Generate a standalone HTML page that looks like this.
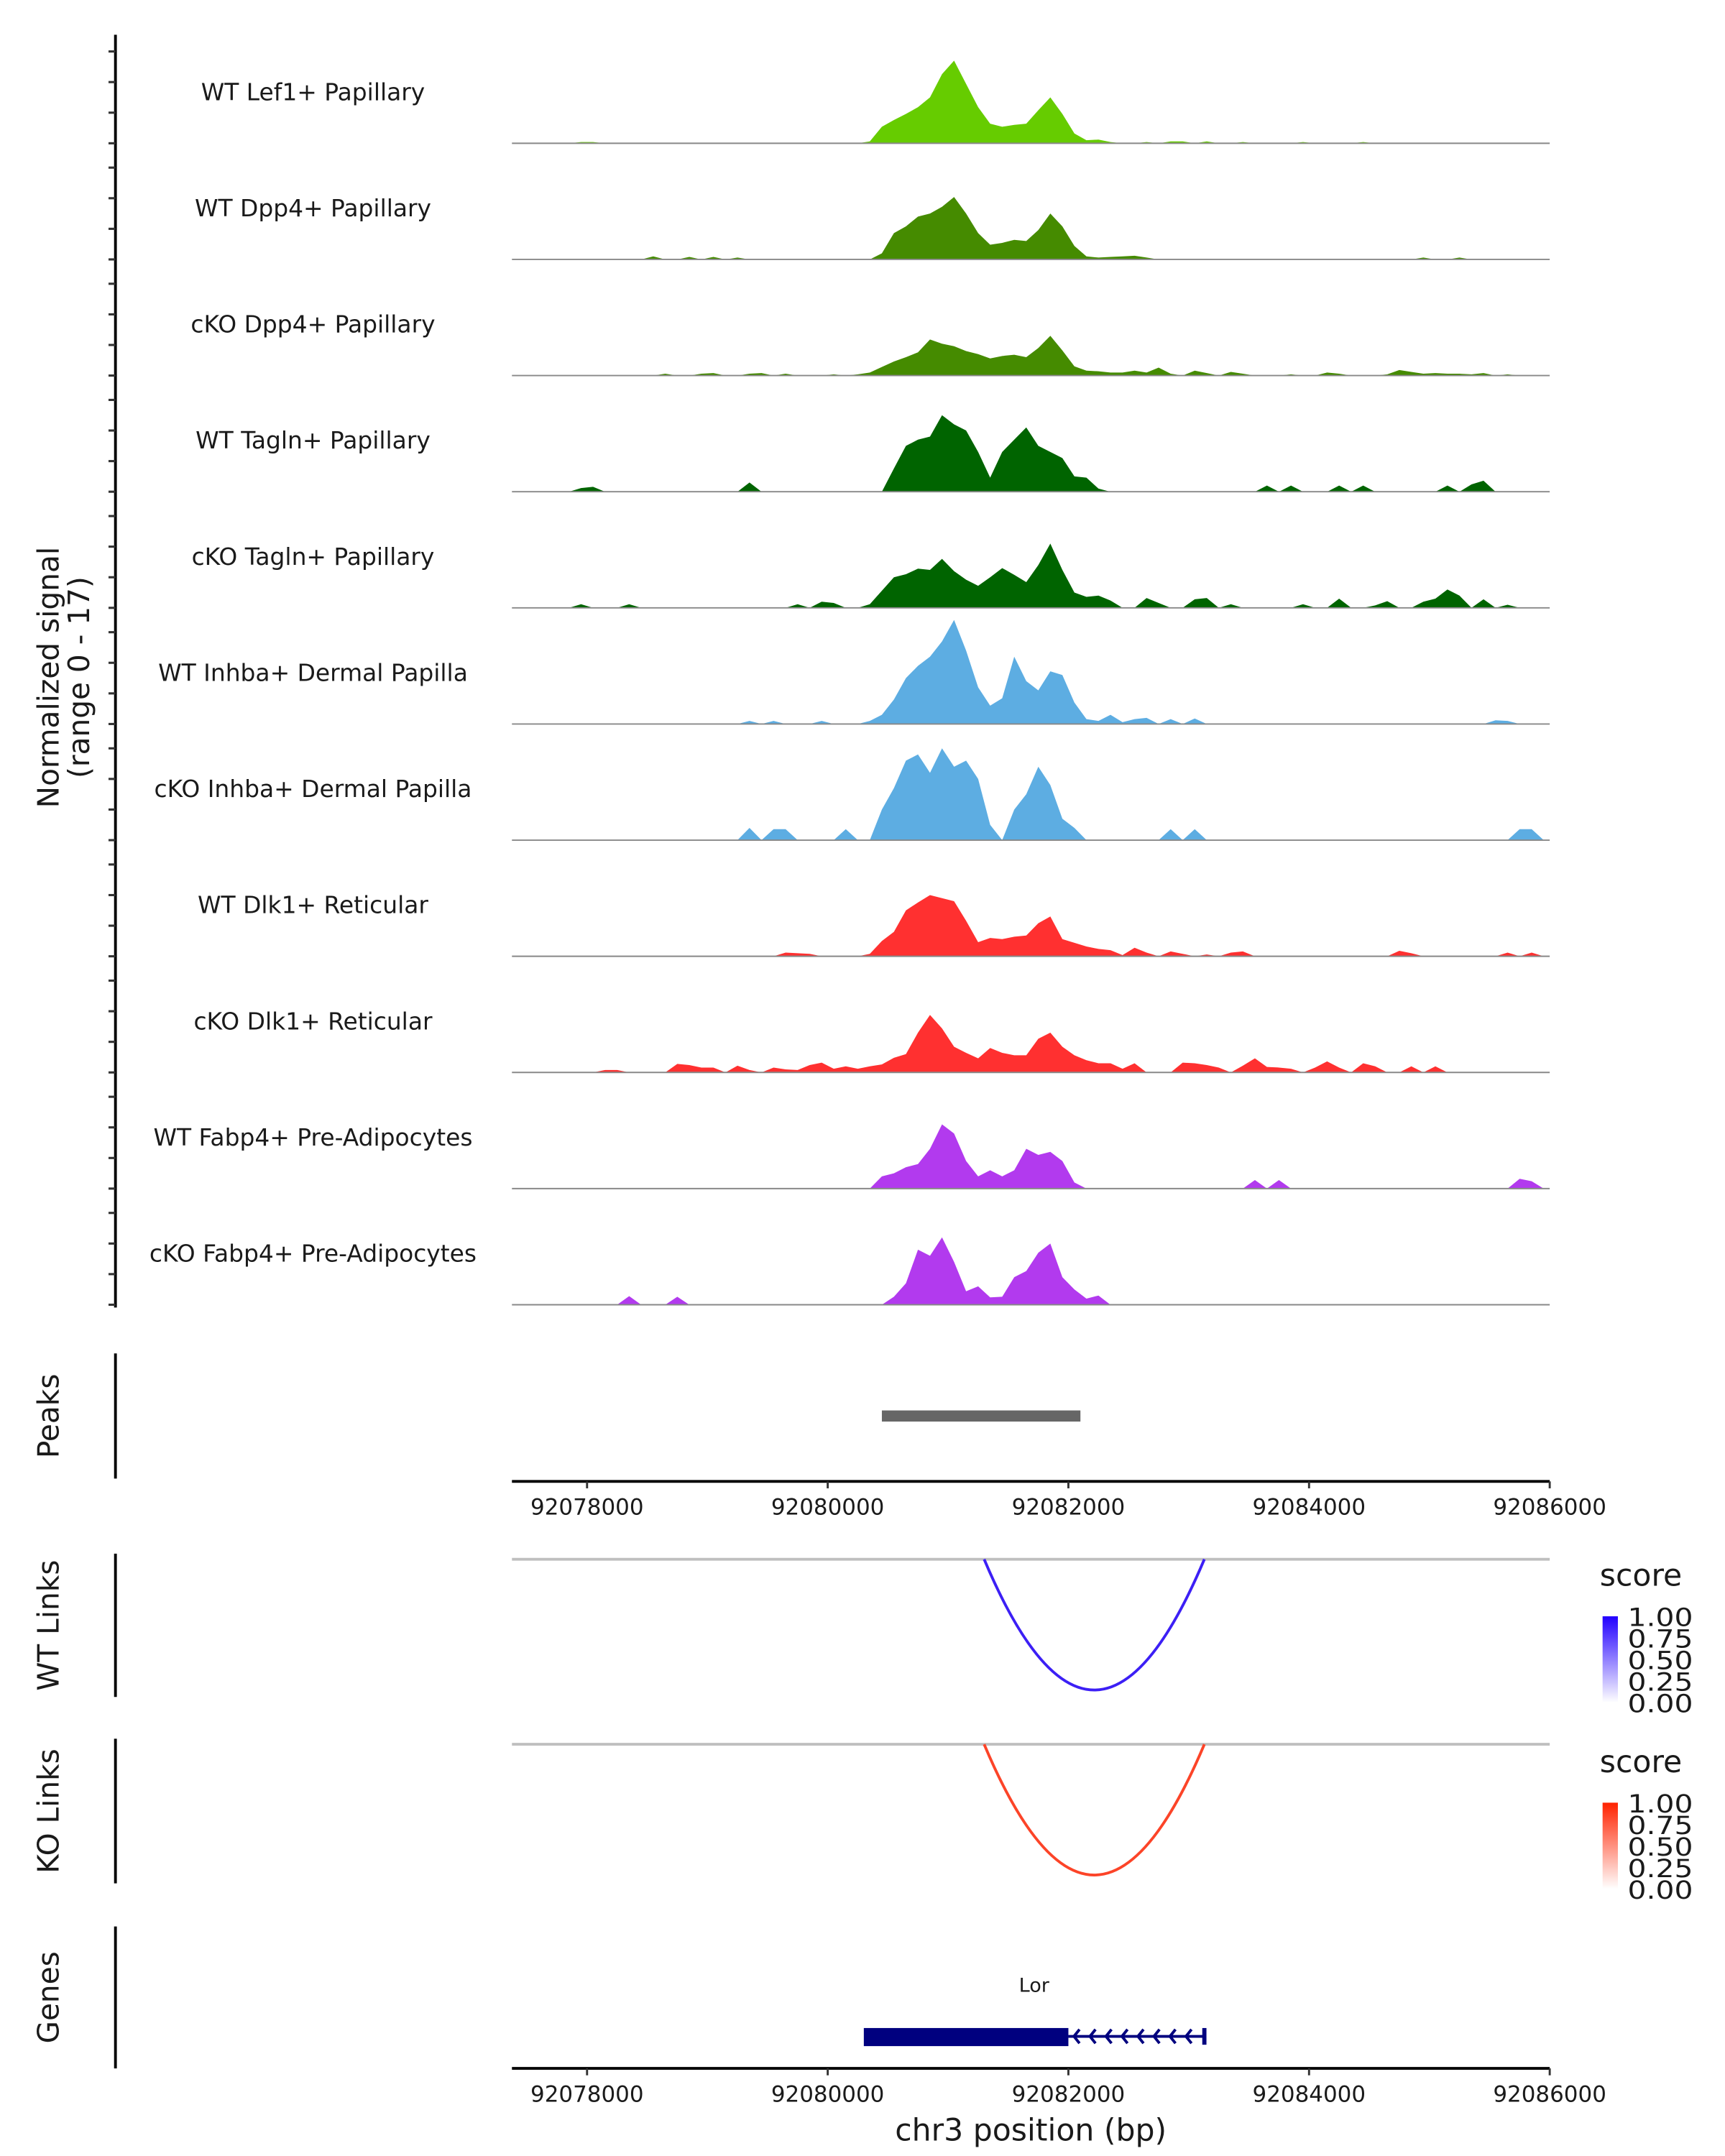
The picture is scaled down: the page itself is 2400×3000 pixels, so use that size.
<!DOCTYPE html>
<html><head><meta charset="utf-8"><style>
html,body{margin:0;padding:0;background:#fff}
svg{display:block}
text{font-family:"DejaVu Sans","Liberation Sans",sans-serif;fill:#1a1a1a}
</style></head><body>
<svg id="chart" width="2400" height="3000" viewBox="0 0 1240 1550" xmlns="http://www.w3.org/2000/svg">
<g id="tracks"></g>
<g id="other"></g>
</svg>
<script>
const NS="http://www.w3.org/2000/svg";
const trackNames=["WT Lef1+ Papillary","WT Dpp4+ Papillary","cKO Dpp4+ Papillary","WT Tagln+ Papillary","cKO Tagln+ Papillary","WT Inhba+ Dermal Papilla","cKO Inhba+ Dermal Papilla","WT Dlk1+ Reticular","cKO Dlk1+ Reticular","WT Fabp4+ Pre-Adipocytes","cKO Fabp4+ Pre-Adipocytes"];
const trackColors=["#66cc00","#458b00","#458b00","#006400","#006400","#5dade2","#5dade2","#ff3030","#ff3030","#b23aee","#b23aee"];
const binStart=92077400;
const binSize=100;
const sLef1=[0,0,0,0,0,0.2,0.2,0,0,0,0,0,0,0.1,0,0,0,0,0,0.1,0,0,0,0,0,0,0.1,0,0,0.3,
2.7,3.8,4.8,5.9,7.5,11.3,13.5,9.7,5.9,3.2,2.7,3,3.2,5.4,7.5,4.8,1.6,0.5,0.6,0.2,
0,0,0.2,0,0.3,0.3,0,0.3,0,0,0.2,0,0,0,0,0.2,0,0,0,0,0.2,0,0,0,0,0,0,0,0,0,0,0,0,0,0,0];
const sWtDpp4=[0,0,0,0,0,0,0,0,0,0,0,0.5,0,0,0.4,0,0.4,0,0.3,0,0,0,0,0,0,0,0,0,0,0,
1,4.3,5.4,7,7.5,8.6,10.2,7.5,4.3,2.4,2.7,3.2,3,4.8,7.5,5.4,2.2,0.5,0.3,0.4,
0.5,0.6,0.3,0,0,0,0,0,0,0,0,0,0,0,0,0,0,0,0,0,0,0,0,0,0,0.3,0,0,0.3,0,0,0,0,0,0,0];
const sKoDpp4=[0,0,0,0,0,0,0,0,0,0,0,0,0.3,0,0,0.3,0.4,0,0,0.3,0.4,0,0.3,0,0,0,0.2,0,0.2,0.5,
1.4,2.3,3,3.8,5.9,5.2,4.8,4,3.5,2.8,3.2,3.4,3,4.5,6.5,4.1,1.5,0.8,0.7,0.5,
0.5,0.8,0.5,1.3,0.3,0,0.8,0.4,0,0.6,0.3,0,0,0,0.2,0,0,0.5,0.3,0,0,0,0.2,0.9,0.6,0.3,0.4,0.3,0.3,0.2,0.4,0,0.2,0,0,0];
const sWtTagln=[0,0,0,0,0,0.6,0.8,0,0,0,0,0,0,0,0,0,0,0,0,1.5,0,0,0,0,0,0,0,0,0,0,
0,3.8,7.5,8.5,9,12.5,11,10,6.5,2.3,6.5,8.5,10.5,7.5,6.5,5.5,2.5,2.3,0.5,0,
0,0,0,0,0,0,0,0,0,0,0,0,1,0,1,0,0,0,1,0,1,0,0,0,0,0,0,1,0,1.2,1.8,0,0,0,0,0];
const sKoTagln=[0,0,0,0,0,0.6,0,0,0,0.6,0,0,0,0,0,0,0,0,0,0,0,0,0,0.6,0,1,0.8,0,0,0.6,
2.8,5,5.5,6.4,6.2,8,6,4.6,3.6,5,6.5,5.4,4.2,7,10.5,6.2,2.5,1.8,2,1.2,
0,0,1.6,0.8,0,0,1.4,1.6,0,0.6,0,0,0,0,0,0.6,0,0,1.5,0,0,0.4,1.1,0,0,1,1.5,3,2,0,1.4,0,0.5,0,0,0];
const sWtInhba=[0,0,0,0,0,0,0,0,0,0,0,0,0,0,0,0,0,0,0,0.5,0,0.5,0,0,0,0.5,0,0,0,0.5,
1.5,4,7.5,9.5,11,13.5,17,12,6,3,4.2,11,7,5.5,8.6,8,3.5,0.8,0.5,1.5,
0.3,0.8,1,0,0.8,0,0.9,0,0,0,0,0,0,0,0,0,0,0,0,0,0,0,0,0,0,0,0,0,0,0,0,0.6,0.5,0,0,0];
const sKoInhba=[0,0,0,0,0,0,0,0,0,0,0,0,0,0,0,0,0,0,0,2,0,1.8,1.8,0,0,0,0,1.8,0,0,
5,8.5,13,14,11,15,12,13,10,2.5,0,5,7.5,12,9,3.5,2,0,0,0,
0,0,0,0,1.8,0,1.8,0,0,0,0,0,0,0,0,0,0,0,0,0,0,0,0,0,0,0,0,0,0,0,0,0,0,1.8,1.8,0];
const sWtDlk1=[0,0,0,0,0,0,0,0,0,0,0,0,0,0,0,0,0,0,0,0,0,0,0.6,0.5,0.4,0,0,0,0,0.4,
2.5,4,7.5,8.8,10,9.5,9,5.8,2.3,3,2.8,3.2,3.4,5.4,6.5,2.8,2.2,1.6,1.2,1,
0.2,1.4,0.6,0,0.8,0.4,0,0.3,0,0.6,0.8,0,0,0,0,0,0,0,0,0,0,0,0,0.9,0.5,0,0,0,0,0,0,0,0.6,0,0.6,0];
const sKoDlk1=[0,0,0,0,0,0,0,0.4,0.4,0,0,0,0,1.4,1.2,0.8,0.8,0,1.1,0.4,0,0.8,0.5,0.4,1.2,1.6,0.6,1,0.6,1,
1.3,2.4,3,6.5,9.4,7.2,4.2,3.2,2.3,4,3.2,2.8,2.8,5.5,6.5,4.2,2.8,2,1.5,1.5,
0.6,1.5,0,0,0,1.6,1.5,1.2,0.8,0,1.1,2.3,0.9,0.8,0.6,0,0.8,1.8,0.8,0,1.5,1,0,0,1,0,1,0,0,0,0,0,0,0,0,0];
const sWtFabp4=[0,0,0,0,0,0,0,0,0,0,0,0,0,0,0,0,0,0,0,0,0,0,0,0,0,0,0,0,0,0,
2,2.5,3.5,4,6.5,10.5,9,4.5,2,3,2,3,6.5,5.5,6,4.5,1,0,0,0,
0,0,0,0,0,0,0,0,0,0,0,1.4,0,1.4,0,0,0,0,0,0,0,0,0,0,0,0,0,0,0,0,0,0,0,1.6,1.2,0];
const sKoFabp4=[0,0,0,0,0,0,0,0,0,1.4,0,0,0,1.3,0,0,0,0,0,0,0,0,0,0,0,0,0,0,0,0,
0,1.3,3.5,9,8,11,7,2.2,3,1.2,1.3,4.5,5.5,8.5,10,4.5,2.5,1,1.5,0,
0,0,0,0,0,0,0,0,0,0,0,0,0,0,0,0,0,0,0,0,0,0,0,0,0,0,0,0,0,0,0,0,0,0,0,0];
const trackSignals=[sLef1,sWtDpp4,sKoDpp4,sWtTagln,sKoTagln,sWtInhba,sKoInhba,sWtDlk1,sKoDlk1,sWtFabp4,sKoFabp4];
const signalTicks=[0,5,10,15];
const xTicks=[92078000,92080000,92082000,92084000,92086000];
const peakStarts=[92080450];
const peakEnds=[92082100];
const linkStarts=[92081300];
const linkEnds=[92083130];
const legendLabels=["1.00","0.75","0.50","0.25","0.00"];
const geneName="Lor";
const geneStart=92080300;
const geneCodingEnd=92082000;
const geneEnd=92083130;

const X0=368,X1=1114;
function xs(p){return 422+(p-92078000)*(692/8000);}
function ys(v,base){return base-v*4.4;}
function mk(tag,attrs,parent,txt){const e=document.createElementNS(NS,tag);for(const k in attrs)e.setAttribute(k,attrs[k]);if(txt!==undefined)e.textContent=txt;parent.appendChild(e);return e;}

const tg=document.getElementById('tracks');
const og=document.getElementById('other');

let el=mk('line',{x1:83,y1:25,x2:83,y2:940,stroke:'#000','stroke-width':2},tg);


el=mk('text',{x:0,y:0,'font-size':21,'text-anchor':'middle',transform:'translate(42,487) rotate(-90)'},tg,'Normalized signal');


el=mk('text',{x:0,y:0,'font-size':21,'text-anchor':'middle',transform:'translate(64,487) rotate(-90)'},tg,'(range 0 - 17)');



trackNames.forEach((name,t)=>{
  const base=103+t*83.5;
  const g=mk('g',{},tg);
  
  
  signalTicks.forEach(v=>{const l=mk('line',{x1:78,x2:83,y1:ys(v,base),y2:ys(v,base),stroke:'#333','stroke-width':1.6},g);
    
    });
  const lab=mk('text',{x:225,y:base-31,'font-size':17,'text-anchor':'middle'},g,name);
  
  
  const vals=trackSignals[t];
  let d='M'+xs(binStart)+','+base;
  vals.forEach((v,i)=>{const c=xs(binStart+(i+0.5)*binSize);
    d+=' L'+c.toFixed(2)+','+ys(v,base).toFixed(2);});
  d+=' L'+xs(binStart+vals.length*binSize)+','+base+' Z';
  const p=mk('path',{d:d,fill:trackColors[t],stroke:'none'},g);
  
  
  const bl=mk('line',{x1:X0,x2:X1,y1:base,y2:base,stroke:'#888','stroke-width':1},g);
  
  
});

function vaxis(y1,y2,label,name){
  let a=mk('line',{x1:83,x2:83,y1:y1,y2:y2,stroke:'#000','stroke-width':2},og);
  
  
  let t=mk('text',{x:0,y:0,'font-size':21,'text-anchor':'middle',transform:'translate(42,'+((y1+y2)/2)+') rotate(-90)'},og,label);
  
  
}
function xaxis(y,name){
  let a=mk('line',{x1:X0,x2:X1,y1:y,y2:y,stroke:'#000','stroke-width':2},og);
  
  
  xTicks.forEach(v=>{let l=mk('line',{x1:xs(v),x2:xs(v),y1:y,y2:y+5,stroke:'#333','stroke-width':1.5},og);
    
    
    let t=mk('text',{x:xs(v),y:y+24,'font-size':16,'text-anchor':'middle',fill:'#4d4d4d'},og,v);
    
    });
}

vaxis(973,1063,'Peaks','peaks');
peakStarts.forEach((s,i)=>{let r=mk('rect',{x:xs(s),y:1014,width:xs(peakEnds[i])-xs(s),height:8,fill:'#666'},og);
  
  });
xaxis(1065,'peaks-x-axis');

function links(top,bottomAxis,label,color,name,legY,gradId,c0){
  vaxis(top-4,bottomAxis,label,name);
  let l=mk('line',{x1:X0,x2:X1,y1:top,y2:top,stroke:'#bfbfbf','stroke-width':2},og);
  
  
  linkStarts.forEach((s,i)=>{const a=xs(s),b=xs(linkEnds[i]),depth=94;
    let p=mk('path',{d:'M'+a+','+top+' Q'+((a+b)/2)+','+(top+2*depth)+' '+b+','+top,fill:'none',stroke:color,'stroke-width':2},og);
    
    });
  const defs=mk('defs',{},og);
  const lg=mk('linearGradient',{id:gradId,x1:0,y1:1,x2:0,y2:0},defs);
  mk('stop',{offset:0,'stop-color':'#ffffff'},lg);mk('stop',{offset:1,'stop-color':c0},lg);
  let tt=mk('text',{x:1150,y:legY,'font-size':22},og,'score');
  
  
  let r=mk('rect',{x:1152,y:legY+22,width:11,height:62,fill:'url(#'+gradId+')'},og);
  
  
  legendLabels.forEach((s,i)=>{let t=mk('text',{x:1170,y:legY+29+i*15.5,'font-size':18,'textLength':47,'lengthAdjust':'spacingAndGlyphs'},og,s);
    
    });
}
links(1121,1220,'WT Links','#3c1ff5','wt-links',1140,'gb','#2200ff');
links(1254,1354,'KO Links','#fc4428','ko-links',1274,'gr','#ff2200');

vaxis(1385,1487,'Genes','genes');
let gt=mk('text',{x:(xs(geneStart)+xs(geneEnd))/2,y:1432,'font-size':14,'text-anchor':'middle'},og,geneName);


let gl=mk('line',{x1:xs(geneCodingEnd),x2:xs(geneEnd),y1:1464,y2:1464,stroke:'#00007f','stroke-width':2},og);


let gr=mk('rect',{x:xs(geneStart),y:1458,width:xs(geneCodingEnd)-xs(geneStart),height:13,fill:'#00007f'},og);


for(let x=xs(geneCodingEnd)+4;x<xs(geneEnd)-3;x+=11.5){
  let a=mk('path',{d:'M'+(x+4)+',1459 L'+x+',1464 L'+(x+4)+',1469',fill:'none',stroke:'#00007f','stroke-width':2},og);
  
  
}
let ge=mk('line',{x1:xs(geneEnd),x2:xs(geneEnd),y1:1458,y2:1470,stroke:'#00007f','stroke-width':3},og);


xaxis(1487,'genes-x-axis');
let xt=mk('text',{x:741,y:1539,'font-size':22,'text-anchor':'middle'},og,'chr3 position (bp)');


</script>
</body></html>
